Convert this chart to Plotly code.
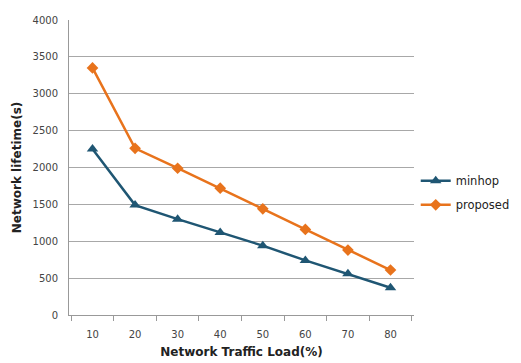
import plotly.graph_objects as go

categories = ["10", "20", "30", "40", "50", "60", "70", "80"]
minhop = [2250, 1490, 1300, 1120, 940, 740, 560, 370]
proposed = [3350, 2260, 1990, 1720, 1440, 1160, 880, 610]
y_ticks = [0, 500, 1000, 1500, 2000, 2500, 3000, 3500, 4000]

fig = go.Figure()
fig.add_trace(go.Scatter(
    x=categories, y=minhop, name="minhop", mode="lines+markers", legendgroup="a",
    line=dict(color="#1F5673", width=2.5),
    marker=dict(symbol="triangle-up", size=10, color="#1F5673"),
))
fig.add_trace(go.Scatter(
    x=categories, y=proposed, name="proposed", mode="lines+markers", legendgroup="b",
    line=dict(color="#E8731C", width=2.5),
    marker=dict(symbol="diamond", size=9, color="#E8731C"),
))

font_fam = "DejaVu Sans, Verdana, sans-serif"
fig.update_layout(
    width=513, height=355,
    margin=dict(l=61, r=107, t=12, b=48, autoexpand=False),
    plot_bgcolor="white", paper_bgcolor="white",
    font=dict(family=font_fam, size=11, color="#333333"),
    showlegend=True,
    legend=dict(x=1.005, y=0.414,
                xanchor="left", yanchor="middle",
                font=dict(size=11.5, color="#222222"),
                itemwidth=30, tracegroupgap=5, bgcolor="rgba(0,0,0,0)"),
    xaxis=dict(
        type="category", tickson="boundaries", ticks="outside", ticklen=5,
        tickcolor="#999999", showline=True, linecolor="#999999", linewidth=1,
        showgrid=False, tickfont=dict(size=10, color="#444444"),
        ticklabelstandoff=10,
        title=dict(text="<b>Network Traffic Load(%)</b>", font=dict(size=12, color="#222222"), standoff=8),
    ),
    yaxis=dict(
        range=[0, 4000], tickvals=y_ticks, showline=True, linecolor="#999999", linewidth=1,
        gridcolor="#A8A8A8", gridwidth=1, zeroline=False,
        ticks="outside", ticklen=8, tickcolor="rgba(0,0,0,0)",
        tickfont=dict(size=10, color="#444444"),
        title=dict(text="<b>Network lifetime(s)</b>", font=dict(size=12, color="#222222"), standoff=8),
    ),
)
fig.write_html("out.html")
